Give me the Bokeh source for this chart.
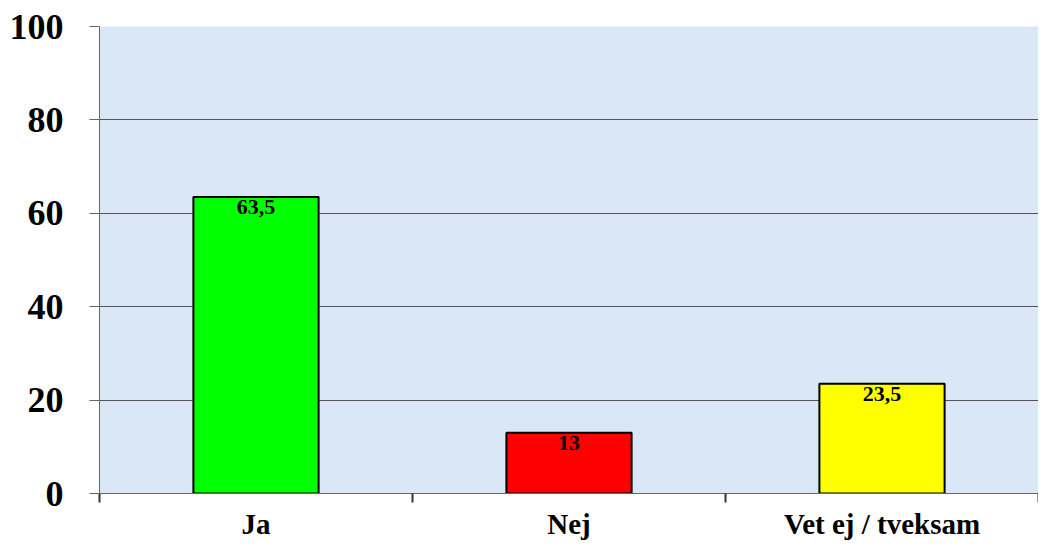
from bokeh.plotting import figure
from bokeh.models import ColumnDataSource, FixedTicker, Range1d
from bokeh.core.properties import value
from bokeh.embed import file_html
from bokeh.resources import INLINE

categories = ["Ja", "Nej", "Vet ej / tveksam"]
values = [63.5, 13, 23.5]
colors = ["#00ff00", "#ff0000", "#ffff00"]
y_ticks = [0, 20, 40, 60, 80, 100]

def fmt(v):
    return (f"{v:g}").replace(".", ",")

xs = [i + 0.5 for i in range(len(categories))]
src = ColumnDataSource(dict(x=xs, top=values, color=colors,
                            label=[fmt(v) for v in values]))

FONT = "Liberation Serif"

p = figure(width=1038, height=542, output_backend="svg", toolbar_location=None,
           x_range=Range1d(0, len(categories)), y_range=Range1d(0, 100),
           min_border_left=99, min_border_right=0, min_border_top=26,
           min_border_bottom=46)
p.background_fill_color = "#dae7f6"
p.border_fill_color = "white"
p.outline_line_color = None

p.vbar(x="x", top="top", width=0.4, bottom=0, fill_color="color",
       line_color="black", line_width=2, source=src)
p.text(x="x", y="top", text="label", source=src, text_align="center",
       text_baseline="top", y_offset=3, text_font=value(FONT),
       text_font_style="bold", text_font_size="22px", text_color="black")

# y axis
p.yaxis.ticker = FixedTicker(ticks=y_ticks)
p.yaxis.major_tick_out = 10
p.yaxis.major_tick_in = 0
p.yaxis.minor_tick_line_color = None
p.yaxis.axis_line_color = "#666666"
p.yaxis.major_tick_line_color = "#666666"
p.yaxis.major_label_text_font = FONT
p.yaxis.major_label_text_font_style = "bold"
p.yaxis.major_label_text_font_size = "36px"
p.yaxis.major_label_text_color = "black"
p.yaxis.major_label_standoff = 26

# x axis: category names at centres, tick marks at category boundaries
p.xaxis.ticker = FixedTicker(ticks=xs, minor_ticks=list(range(len(categories) + 1)))
p.xaxis.major_label_overrides = {x: c for x, c in zip(xs, categories)}
p.xaxis.major_tick_line_color = None
p.xaxis.major_tick_out = 9
p.xaxis.major_tick_in = 0
p.xaxis.minor_tick_out = 9
p.xaxis.minor_tick_in = 0
p.xaxis.minor_tick_line_color = "#333333"
p.xaxis.minor_tick_line_width = 2
p.xaxis.axis_line_color = "#666666"
p.xaxis.major_label_text_font = FONT
p.xaxis.major_label_text_font_style = "bold"
p.xaxis.major_label_text_font_size = "29px"
p.xaxis.major_label_text_color = "black"
p.xaxis.major_label_standoff = 5

p.xgrid.grid_line_color = None
p.ygrid.ticker = FixedTicker(ticks=y_ticks)
p.ygrid.grid_line_color = "#555555"
p.ygrid.grid_line_width = 1

open("out.html", "w").write(file_html(p, INLINE))
